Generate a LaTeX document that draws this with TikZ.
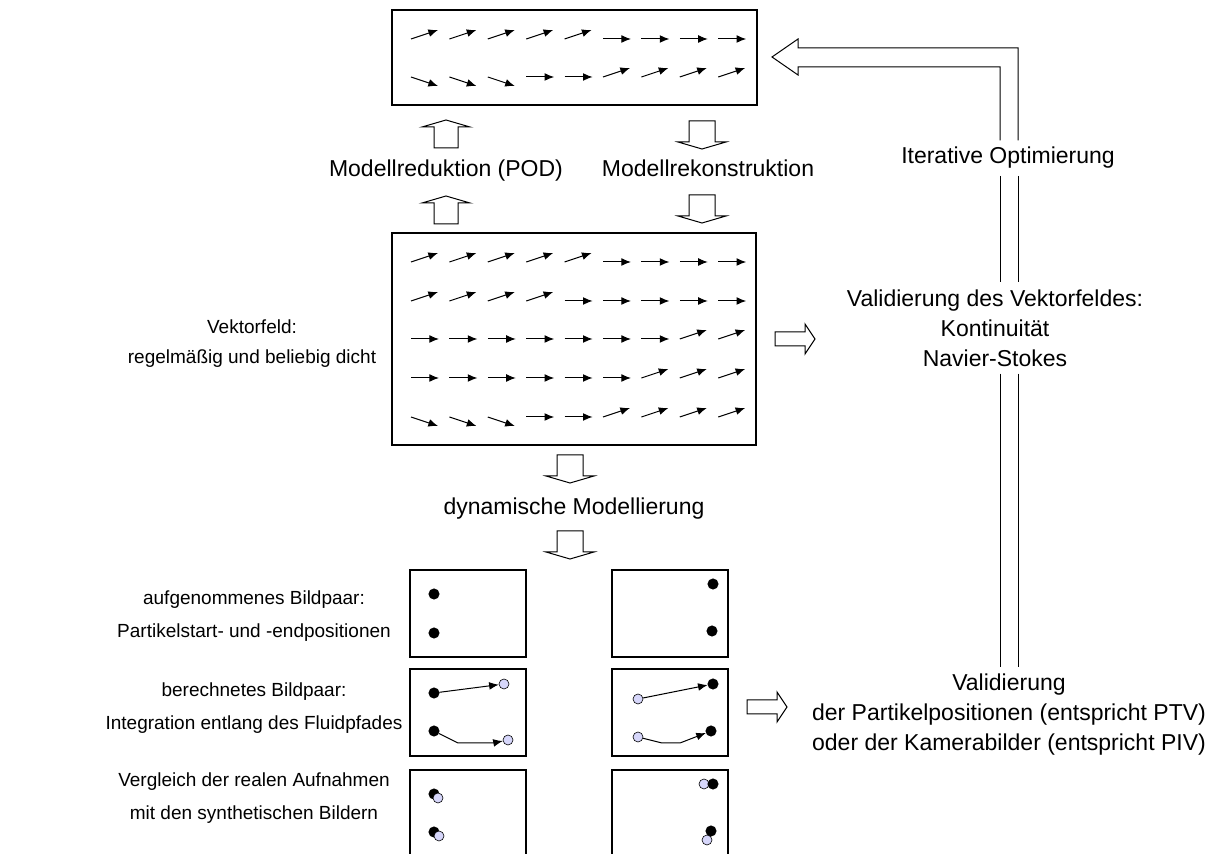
\documentclass[tikz,border=0pt]{standalone}
\usepackage{fontspec}
\setmainfont{Liberation Sans}
\usetikzlibrary{arrows.meta}
\definecolor{ghost}{RGB}{214,214,250}

\begin{document}
\begin{tikzpicture}[x=0.5pt,y=-0.5pt,
  font=\fontsize{11.5}{15}\selectfont,
  vec/.style={line width=0.5pt,-{Latex[length=4.8pt,width=3.9pt]}},
  fieldbox/.style={draw,line width=0.6pt,inner sep=0pt},
  pbox/.style={fieldbox,minimum width=58pt,minimum height=43.5pt},
  txt/.style={align=center},
  ptxt/.style={align=center,font=\fontsize{9.5}{16.5}\selectfont},
  dotA/.style={circle,fill=black,draw=black,line width=0.3pt,inner sep=0pt,minimum size=5.2pt},
  dotB/.style={circle,fill=ghost,draw=black,line width=0.3pt,inner sep=0pt,minimum size=5pt},
  hollow/.style={draw,line width=0.5pt,fill=white,line join=miter},
  pics/down block/.style={code={\draw[hollow] (-13,0) -- (13,0) -- (13,21) -- (24,21) -- (0,28) -- (-24,21) -- (-13,21) -- cycle;}},
  pics/up block/.style={code={\draw[hollow] (-12,0) -- (12,0) -- (12,-21) -- (24,-21) -- (0,-28) -- (-24,-21) -- (-12,-21) -- cycle;}},
  pics/right block/.style={code={\draw[hollow] (0,-7) -- (30,-7) -- (30,-15) -- (40,0) -- (30,15) -- (30,7) -- (0,7) -- cycle;}}]
  \useasboundingbox (0,0) rectangle (1212,854);
  \clip (0,0) rectangle (1212,854);

  \node[fieldbox,minimum width=182.5pt,minimum height=47.5pt] (topfield) at (574.5,57.5) {};
  \node[fieldbox,minimum width=182pt,minimum height=106pt] (field) at (574,339) {};

  \foreach \y/\dirs in {39/{1,1,1,1,1,0,0,0,0},77/{-1,-1,-1,0,0,1,1,1,1},
                        262/{1,1,1,1,1,0,0,0,0},301/{1,1,1,1,0,0,0,0,0},
                        339/{0,0,0,0,0,0,0,1,1},378/{0,0,0,0,0,0,1,1,1},
                        417/{-1,-1,-1,0,0,1,1,1,1}}
    \foreach \d [count=\c] in \dirs
      \draw[vec] ({411+38.4*(\c-1)},\y) -- ++({28-(\d)*(\d)},{-9*(\d)});

  \node[anchor=base] (reduce) at (446,177) {Modellreduktion (POD)};
  \node[anchor=base] (rebuild) at (708,177) {Modellrekonstruktion};
  \node[anchor=base] (dynmod) at (574,515) {dynamische Modellierung};
  \node[ptxt,font=\fontsize{9.5}{15}\selectfont] (fieldlabel) at (252,344) {Vektorfeld:\\regelmäßig und beliebig dicht};

  \pic at (446,148) {up block};
  \pic at (446,224) {up block};
  \pic at (702,121) {down block};
  \pic at (702,195) {down block};
  \pic at (570,455) {down block};
  \pic at (570,531) {down block};
  \pic at (775,339) {right block};
  \pic at (747,707) {right block};

  \node[anchor=base] (iter) at (1008,164) {Iterative Optimierung};
  \node[txt] (valfield) at (995,328) {Validierung des Vektorfeldes:\\Kontinuität\\Navier-Stokes};
  \node[txt] (valpart) at (1009,715) {Validierung\\der Partikelpositionen (entspricht PTV)\\oder der Kamerabilder (entspricht PIV)};

  \coordinate (inner) at (1000,0);
  \coordinate (outer) at (1018,0);
  \draw[line width=0.5pt,line join=miter] (iter.north -| inner) |- (798,67) -- (798,75) -- (772,57)
    -- (798,39) -- (798,48) -| (iter.north -| outer);
  \foreach \side in {inner,outer} {
    \draw[line width=0.5pt] (iter.south -| \side) -- (valfield.north -| \side);
    \draw[line width=0.5pt] (valfield.south -| \side) -- (valpart.north -| \side);
  }

  \node[ptxt] (pairlabel) at (254,616) {aufgenommenes Bildpaar:\\Partikelstart- und -endpositionen};
  \node[ptxt] (calclabel) at (254,708) {berechnetes Bildpaar:\\Integration entlang des Fluidpfades};
  \node[ptxt] (cmplabel) at (254,798) {Vergleich der realen Aufnahmen\\mit den synthetischen Bildern};

  \node[pbox] (shotA) at (468,613.5) {};
  \node[pbox] (shotB) at (670,613.5) {};
  \node[pbox] (calcA) at (468,712.5) {};
  \node[pbox] (calcB) at (670,712.5) {};
  \node[pbox] (cmpA) at (468,813.5) {};
  \node[pbox] (cmpB) at (670,813.5) {};

  \node[dotA] (a1) at (434,594) {};
  \node[dotA] (a2) at (434,633) {};
  \node[dotA] (b1) at (713,584) {};
  \node[dotA] (b2) at (712,631) {};

  \node[dotA] (c1) at (434,693) {};
  \node[dotB] (c1m) at (504,684) {};
  \node[dotA] (c2) at (434,731) {};
  \node[dotB] (c2m) at (508,740) {};
  \draw[vec] (c1) -- (c1m);
  \draw[vec] (c2) -- (458,743) -- (493,743) -- (c2m);

  \node[dotB] (d1m) at (638,699) {};
  \node[dotA] (d1) at (713,684) {};
  \node[dotB] (d2m) at (638,737) {};
  \node[dotA] (d2) at (711,731) {};
  \draw[vec] (d1m) -- (d1);
  \draw[vec] (d2m) -- (662,743) -- (680,743) -- (d2);

  \node[dotA] (e1) at (434,794) {};
  \node[dotB] (e1m) at (438,798) {};
  \node[dotA] (e2) at (434,832) {};
  \node[dotB] (e2m) at (439,836) {};

  \node[dotB] (f1m) at (704,784) {};
  \node[dotA] (f1) at (713,784) {};
  \node[dotA] (f2) at (711,831) {};
  \node[dotB] (f2m) at (707,840) {};
\end{tikzpicture}
\end{document}
